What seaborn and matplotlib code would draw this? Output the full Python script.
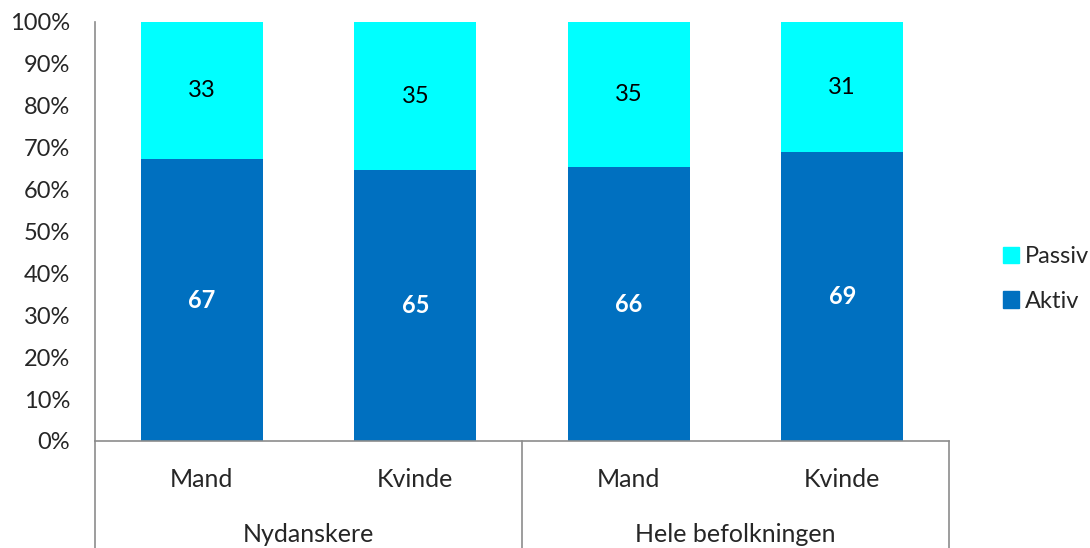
import numpy as np
import pandas as pd
import seaborn as sns
import matplotlib.pyplot as plt
from matplotlib.patches import Patch
from matplotlib.ticker import PercentFormatter

sns.set_style("white")
plt.rcParams['font.family'] = ['Lato', 'DejaVu Sans']

# data
groups = ["Nydanskere", "Hele befolkningen"]
genders = ["Mand", "Kvinde", "Mand", "Kvinde"]
aktiv = [67.2, 64.6, 65.3, 68.9]
passiv = [32.8, 35.4, 34.7, 31.1]
aktiv_labels = [67, 65, 66, 69]
passiv_labels = [33, 35, 35, 31]

keys = [groups[i // 2] + " " + g for i, g in enumerate(genders)]
df = pd.DataFrame({"key": keys, "aktiv": aktiv, "passiv": passiv})

c_aktiv = "#0070C0"
c_passiv = "#00FFFF"
fs = 18

fig = plt.figure(figsize=(10.9, 5.48), dpi=100)
ax = fig.add_axes([0.0872, 0.1953, 0.7834, 0.7646])

sns.barplot(data=df, x="key", y="aktiv", color=c_aktiv, width=0.57,
            saturation=1, ax=ax, order=keys, linewidth=0)
sns.barplot(data=df, x="key", y="passiv", color=c_passiv, width=0.57,
            saturation=1, ax=ax, order=keys, bottom=df["aktiv"], linewidth=0)

# labels in the segments
for i in range(len(keys)):
    ax.text(i, aktiv[i] / 2, str(aktiv_labels[i]), ha="center", va="center",
            color="white", fontsize=17, fontweight="bold")
    ax.text(i, aktiv[i] + passiv[i] / 2, str(passiv_labels[i]), ha="center",
            va="center", color="black", fontsize=17)

ax.set_xlim(-0.5, 3.5)
ax.set_ylim(0, 100)
ax.set_yticks(np.arange(0, 101, 10))
ax.yaxis.set_major_formatter(PercentFormatter(decimals=0))
ax.tick_params(axis="y", length=0, labelsize=17, pad=18)
ax.set_xticks([])
ax.set_xlabel("")
ax.set_ylabel("")

for s in ["top", "right"]:
    ax.spines[s].set_visible(False)
ax.spines["left"].set_color("#8c8c8c")
ax.spines["bottom"].set_color("#8c8c8c")
ax.spines["left"].set_linewidth(1.2)
ax.spines["bottom"].set_linewidth(1.2)

# two-level category axis
tr = ax.get_xaxis_transform()
for i, g in enumerate(genders):
    ax.text(i, -0.093, g, transform=tr, ha="center", va="center", fontsize=fs)
for j, grp in enumerate(groups):
    ax.text(j * 2 + 0.5, -0.224, grp, transform=tr, ha="center", va="center",
            fontsize=fs)
for xv in [-0.5, 1.5, 3.5]:
    ax.plot([xv, xv], [0, -0.3], transform=tr, color="#8c8c8c", lw=1.2,
            clip_on=False)

handles = [Patch(color=c_passiv), Patch(color=c_aktiv)]
fig.legend(handles, ["Passiv", "Aktiv"], loc="center left",
           bbox_to_anchor=(0.909, 0.491), frameon=False, fontsize=17,
           borderpad=0, handlelength=0.7, handleheight=0.7,
           handletextpad=0.25, labelspacing=1.0)

fig.savefig("out.png", dpi=100)
